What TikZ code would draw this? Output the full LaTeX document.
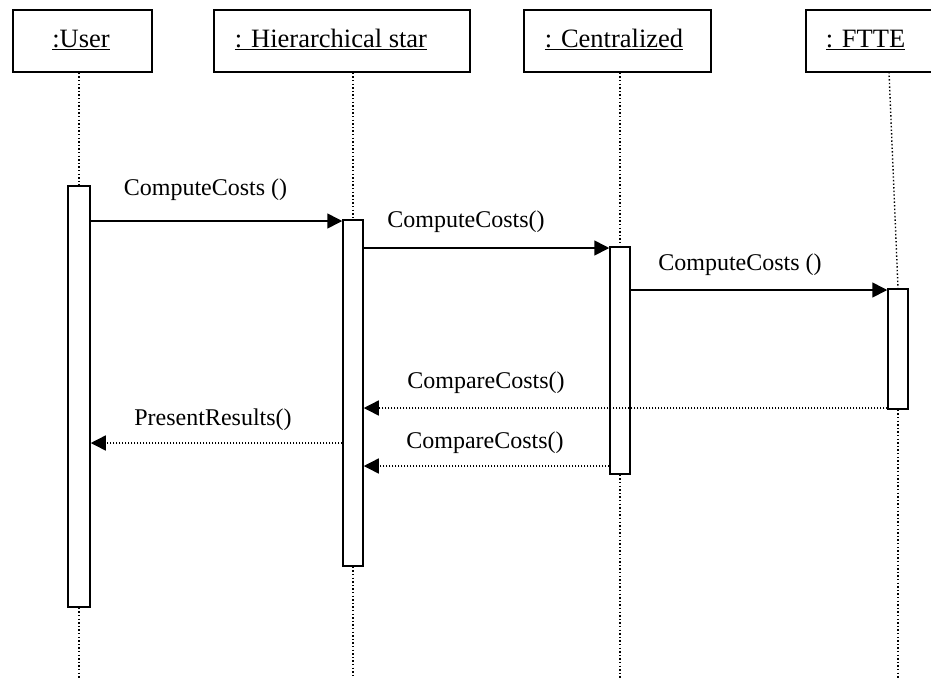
\documentclass[tikz,border=0pt]{standalone}
\usepackage{fontspec}
\setmainfont{Liberation Serif}
\usetikzlibrary{arrows.meta}
\begin{document}
\begin{tikzpicture}[x=1pt,y=-1pt,
 hdr/.style={draw,line width=1.6pt,minimum height=62pt,inner sep=0pt},
 hdropen/.style={draw=none,minimum height=62pt,inner sep=0pt},
 hdrtxt/.style={anchor=base,inner sep=0pt,font=\fontsize{26.5}{30}\selectfont},
 actbox/.style={draw,line width=1.5pt,minimum width=20pt,inner sep=0pt,fill=white},
 life/.style={line width=1.4pt,dash pattern=on 1.4pt off 2.2pt},
 callmsg/.style={line width=1.6pt,-{Triangle[length=15pt,width=15pt]}},
 retmsg/.style={line width=1.4pt,dash pattern=on 1.4pt off 1.6pt,-{Triangle[length=15pt,width=15pt]}},
 lbl/.style={anchor=base,inner sep=0pt,font=\fontsize{24}{28}\selectfont}]
\useasboundingbox (0,0) rectangle (931,678);

% header boxes
\node[hdr,minimum width=139pt] (user) at (82.5,41) {};
\node[hdr,minimum width=256pt] (hier) at (342,41) {};
\node[hdr,minimum width=187pt] (cent) at (617.5,41) {};
\node[hdropen,minimum width=126pt] (ftte) at (869,41) {};
\draw[line width=1.6pt] (ftte.north east) -- (ftte.north west) -- (ftte.south west) -- (ftte.south east);

\node[hdrtxt] (usertxt) at (81,47) {\underline{:User}};
\node[hdrtxt] (hiertxt) at (331,47) {\underline{: Hierarchical star}};
\node[hdrtxt] (centtxt) at (614,47) {\underline{: Centralized}};
\node[hdrtxt] (fttetxt) at (865.5,47) {\underline{: FTTE}};

% activation boxes
\node[actbox,minimum width=22pt,minimum height=421pt] (ua) at (79,396.5) {};
\node[actbox,minimum height=346pt] (ha) at (353,393) {};
\node[actbox,minimum height=227pt] (ca) at (620,360.5) {};
\node[actbox,minimum height=120pt] (fa) at (898,349) {};

% lifelines
\coordinate (ftop) at (889,72);
\draw[life] (ua.north |- user.south) -- (ua.north);
\draw[life] (ua.south) -- (ua.south |- 0,678);
\draw[life] (ha.north |- hier.south) -- (ha.north);
\draw[life] (ha.south) -- (ha.south |- 0,678);
\draw[life] (ca.north |- cent.south) -- (ca.north);
\draw[life] (ca.south) -- (ca.south |- 0,678);
\draw[life] (ftop) -- (fa.north);
\draw[life] (fa.south) -- (fa.south |- 0,678);

% messages
\draw[callmsg] (ua.east |- 0,221) -- (ha.west |- 0,221);
\draw[callmsg] (ha.east |- 0,248) -- (ca.west |- 0,248);
\draw[callmsg] (ca.east |- 0,290) -- (fa.west |- 0,290);
\draw[retmsg] (fa.west |- 0,408) -- (ha.east |- 0,408);
\draw[retmsg] (ha.west |- 0,443) -- (ua.east |- 0,443);
\draw[retmsg] (ca.west |- 0,466) -- (ha.east |- 0,466);

% labels
\node[lbl] (l1) at (205.5,195) {ComputeCosts ()};
\node[lbl] (l2) at (466,227) {ComputeCosts()};
\node[lbl] (l3) at (740,270) {ComputeCosts ()};
\node[lbl] (l4) at (486,388) {CompareCosts()};
\node[lbl] (l5) at (213,425) {PresentResults()};
\node[lbl] (l6) at (485,448) {CompareCosts()};
\end{tikzpicture}
\end{document}
